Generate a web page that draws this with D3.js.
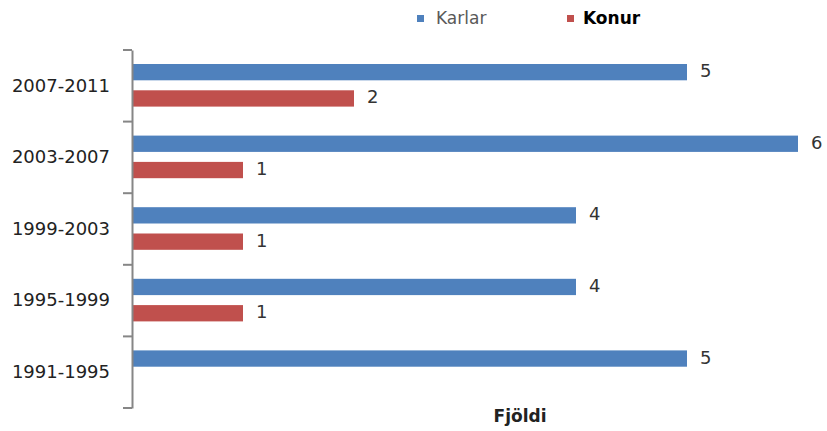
<!DOCTYPE html>
<html>
<head>
<meta charset="utf-8">
<script src="https://cdn.jsdelivr.net/npm/d3@7"></script>
<style>
  body { margin: 0; background: #fff; }
  svg { display: block; font-family: "DejaVu Sans", Verdana, sans-serif; }
</style>
</head>
<body>
<div class="chart"></div>
<script>
const periods = ["2007-2011", "2003-2007", "1999-2003", "1995-1999", "1991-1995"];
const karlar = [5, 6, 4, 4, 5];
const konur = [2, 1, 1, 1, 0];
const seriesNames = ["Karlar", "Konur"];
const colors = ["#4F81BD", "#C0504D"];

const svg = d3.select(".chart")
  .append("svg")
  .attr("width", 827)
  .attr("height", 431);

const margin = { top: 50, left: 132 };
const height = 358; // plot height
const width = 666;  // 6 units

const x = d3.scaleLinear().domain([0, 6]).range([0, width]);
const y = d3.scaleBand().domain(periods).range([0, height]);
const inner = d3.scaleBand().domain(seriesNames).range([14, y.bandwidth() - 15]).paddingInner(0.38);

const rows = periods.map((p, i) => ({ period: p, values: [karlar[i], konur[i]] }));

const chart = svg.append("g")
  .attr("transform", `translate(${margin.left},${margin.top})`);

const group = chart.selectAll("g.row")
  .data(rows)
  .join("g")
  .attr("class", "row")
  .attr("transform", d => `translate(0,${y(d.period)})`);

group.selectAll("rect")
  .data(d => d.values.map((v, j) => ({ v, j })).filter(e => e.v > 0))
  .join("rect")
  .attr("x", 0)
  .attr("y", e => inner(seriesNames[e.j]))
  .attr("width", e => x(e.v))
  .attr("height", inner.bandwidth())
  .attr("fill", e => colors[e.j]);

group.selectAll("text.val")
  .data(d => d.values.map((v, j) => ({ v, j })).filter(e => e.v > 0))
  .join("text")
  .attr("class", "val")
  .attr("x", e => x(e.v) + 13)
  .attr("y", e => inner(seriesNames[e.j]) + inner.bandwidth() / 2)
  .attr("dominant-baseline", "middle")
  .attr("font-size", 18)
  .attr("fill", "#333")
  .text(e => e.v);

// category axis on the left
const yAxis = chart.append("g")
  .call(d3.axisLeft(y).tickSize(0).tickPadding(22).tickSizeOuter(0));
yAxis.select(".domain").attr("stroke", "#868686").attr("stroke-width", 2);
yAxis.selectAll("text").attr("font-size", 18).attr("fill", "#222")
  .attr("font-family", "DejaVu Sans, sans-serif");

// tick marks between categories
const bounds = periods.map(p => y(p)).concat([height]);
chart.selectAll("line.tick-mark")
  .data(bounds)
  .join("line")
  .attr("class", "tick-mark")
  .attr("x1", -9).attr("x2", 0)
  .attr("y1", d => d).attr("y2", d => d)
  .attr("stroke", "#868686")
  .attr("stroke-width", 2);

// axis title
svg.append("text")
  .attr("x", 520).attr("y", 417)
  .attr("text-anchor", "middle")
  .attr("dominant-baseline", "middle")
  .attr("font-weight", "bold")
  .attr("font-size", 17)
  .attr("fill", "#222")
  .text("Fjöldi");

// legend
const legendX = [417, 567];
const legend = svg.selectAll("g.legend")
  .data(seriesNames)
  .join("g")
  .attr("class", "legend")
  .attr("transform", (d, i) => `translate(${legendX[i]},19)`);
legend.append("rect")
  .attr("x", 0).attr("y", -4)
  .attr("width", 7).attr("height", 7)
  .attr("fill", (d, i) => colors[i]);
legend.append("text")
  .attr("x", (d, i) => i === 0 ? 19 : 16)
  .attr("y", 0)
  .attr("dominant-baseline", "middle")
  .attr("font-size", (d, i) => i === 0 ? 17 : 17)
  .attr("font-weight", (d, i) => i === 0 ? "normal" : "bold")
  .attr("fill", (d, i) => i === 0 ? "#595959" : "#000")
  .text(d => d);
</script>
</body>
</html>
